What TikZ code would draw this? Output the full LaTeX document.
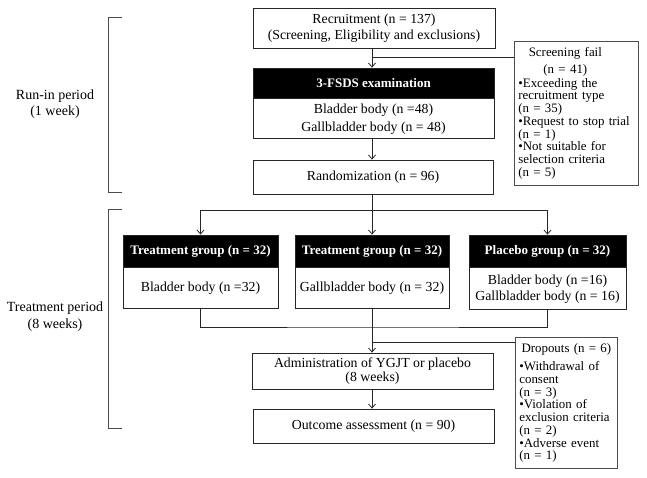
\documentclass[tikz,border=0pt]{standalone}
\usepackage{fontspec}
\setmainfont{Liberation Serif}
\usetikzlibrary{arrows.meta}
\begin{document}
\begin{tikzpicture}[x=1pt,y=-1pt,
  box/.style={draw=black!85, line width=0.8pt, fill=white, inner sep=0pt, align=center, font=\fontsize{13.8}{16}\selectfont},
  head/.style={box, fill=black, text=white, font=\fontsize{13}{16}\selectfont\bfseries},
  side/.style={draw=black!70, line width=0.7pt, anchor=north west, inner xsep=4pt, inner ysep=5pt, align=left, font=\fontsize{12.9}{12.7}\selectfont},
  lbl/.style={align=center, font=\fontsize{14}{16.5}\selectfont},
  conn/.style={draw=black!85, line width=0.8pt},
  arr/.style={conn, -{Straight Barb[length=4pt,width=7pt]}},
  brace/.style={draw=black!70, line width=0.8pt}]
\useasboundingbox (0,0) rectangle (647,478);

% run-in period
\node[box, minimum width=242, minimum height=40] (rec) at (374,28) {Recruitment (n = 137)\\(Screening, Eligibility and exclusions)};
\node[head, minimum width=241, minimum height=30] (fsdsh) at (373.5,83) {3-FSDS examination};
\node[box, minimum width=241, minimum height=40, anchor=north, font=\fontsize{13.8}{18}\selectfont] (fsdsb) at (fsdsh.south) {Bladder body (n =48)\\Gallbladder body (n = 48)};
\node[box, minimum width=240, minimum height=34] (rand) at (373,177) {Randomization (n = 96)};

\node[side, text width=116, minimum height=144] (sf) at (514,41) {%
\makebox[94pt]{Screening fail}\\[4pt]
\makebox[94pt]{(n = 41)}\\[1pt]
•Exceeding~the\\
recruitment~type\\
(n~=~35)\\
•Request~to~stop~trial\\
(n~=~1)\\
•Not~suitable~for\\
selection~criteria\\
(n~=~5)};

% groups
\node[head, minimum width=155, minimum height=32] (g1h) at (200.5,251) {Treatment group (n = 32)};
\node[box, minimum width=155, minimum height=41, anchor=north] (g1b) at (g1h.south) {Bladder body (n =32)};
\node[head, minimum width=154, minimum height=32] (g2h) at (372,251) {Treatment group (n = 32)};
\node[box, minimum width=154, minimum height=41, anchor=north] (g2b) at (g2h.south) {Gallbladder body (n = 32)};
\node[head, minimum width=157, minimum height=32] (g3h) at (547.5,251) {Placebo group (n = 32)};
\node[box, minimum width=157, minimum height=42, anchor=north] (g3b) at (g3h.south) {Bladder body (n =16)\\Gallbladder body (n = 16)};

\node[box, minimum width=241, minimum height=36, font=\fontsize{13.8}{14.5}\selectfont] (adm) at (372.5,371) {Administration of YGJT or placebo\\(8 weeks)};
\node[box, minimum width=241, minimum height=34] (out) at (373.5,426) {Outcome assessment (n = 90)};

\node[side, text width=94, minimum height=131] (drop) at (515,337) {%
\makebox[94pt]{Dropouts (n = 6)}\\[6pt]
•Withdrawal~of\\
consent\\
(n~=~3)\\
•Violation~of\\
exclusion~criteria\\
(n~=~2)\\
•Adverse~event\\
(n~=~1)};

% period labels and brackets
\node[lbl] (runin) at (55,104) {Run-in period\\(1 week)};
\node[lbl] (treat) at (55,316.5) {Treatment period\\(8 weeks)};
\draw[brace] (122,17) -- (108,17) -- (108,192) -- (122,192);
\draw[brace] (122,209) -- (108,209) -- (108,428) -- (122,428);

% connectors
\coordinate (trunk) at (372,0);
\coordinate (j1) at (372,57);
\coordinate (j2) at (372,210);
\coordinate (j3) at (372,327);
\coordinate (j4) at (372,342);
\draw[arr] (rec.south -| trunk) -- (fsdsh.north -| trunk);
\draw[conn] (j1) -- (j1 -| sf.west);
\draw[arr] (fsdsb.south -| trunk) -- (rand.north -| trunk);
\draw[conn] (rand.south -| trunk) -- (j2);
\draw[arr] (j2) -| (g1h.north);
\draw[arr] (j2) -| (g3h.north);
\draw[arr] (j2) -- (g2h.north -| trunk);
\draw[conn] (g1b.south) |- (j3) -| (g3b.south);
\draw[arr] (g2b.south -| trunk) -- (adm.north -| trunk);
\draw[conn] (j4) -- (j4 -| drop.west);
\draw[arr] (adm.south -| trunk) -- (out.north -| trunk);
\end{tikzpicture}
\end{document}
